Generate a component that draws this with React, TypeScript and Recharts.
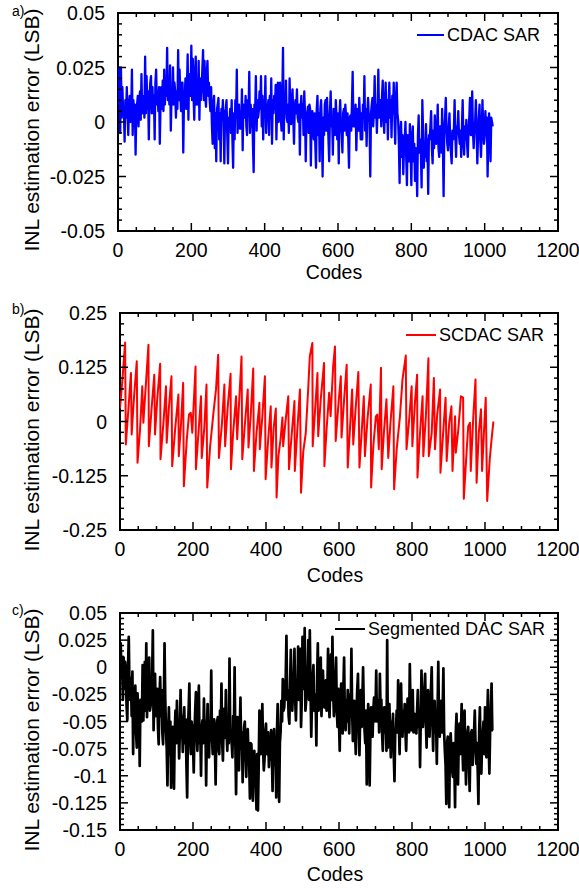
import React from "react";
import { LineChart, Line, XAxis, YAxis, ReferenceArea } from "recharts";

const FONT = '"Liberation Sans", Arial, Helvetica, sans-serif';
const CHART_W = 579;
const RIGHT_MARGIN = 21;

// ---------- axis ticks ----------
const xMajorTicks = [0, 200, 400, 600, 800, 1000, 1200];
const cdacYMajor = [0.05, 0.025, 0, -0.025, -0.05];
const cdacYLabels = ["0.05", "0.025", "0", "-0.025", "-0.05"];
const scdacYMajor = [0.25, 0.125, 0, -0.125, -0.25];
const scdacYLabels = ["0.25", "0.125", "0", "-0.125", "-0.25"];
const segYMajor = [0.05, 0.025, 0, -0.025, -0.05, -0.075, -0.1, -0.125, -0.15];
const segYLabels = ["0.05", "0.025", "0", "-0.025", "-0.05", "-0.075", "-0.1", "-0.125", "-0.15"];

// ---------- a) CDAC SAR: INL error in milli-LSB, one value every 2 codes (codes 0..1022) ----------
const CDAC_CODE_STEP = 2;
const cdacInlMilli = [
  8, 14, 25, -5, 25, 2, 16, 4,
  6, -9, 10, 2, 16, 3, -6, 8,
  12, 0, 4, 24, -6, 10, 2, 8,
  -15, 6, 8, 12, -2, 10, 14, 1,
  22, 4, 6, 12, 2, 30, 4, 21,
  6, 14, -8, 12, 18, 21, 4, 16,
  4, 12, -8, 18, 24, 8, 14, 5,
  16, -10, 8, 16, 6, 19, 5, 24,
  8, 18, 12, 34, 10, 18, 8, 26,
  -4, 12, 8, 25, 8, 18, 14, 2,
  14, 6, 33, 10, 24, 12, 5, 18,
  18, -14, 10, 12, 20, 6, 16, 31,
  1, 22, 14, 12, 35, 10, 29, 12,
  1, 22, 30, 8, 18, 8, 28, 1,
  20, 10, 16, 24, 33, 10, 28, 12,
  7, 22, 28, 12, 18, 10, 5, 16,
  -1, -10, 8, 12, -12, 4, -18, 6,
  8, 11, -8, 4, -18, 6, 2, 10,
  0, -19, 4, 6, 10, -6, -19, 2,
  0, 6, -5, 10, -8, -21, 4, -8,
  10, 2, 24, -5, 6, 8, -3, 4,
  -3, 15, -13, 8, 5, 2, 12, -2,
  -6, 10, 4, 23, -5, 8, -2, 6,
  -10, -23, 8, 4, 21, -4, 10, 2,
  5, 14, 6, 21, -2, 12, -8, 10,
  4, 21, -5, 8, 2, 10, -6, 12,
  2, 20, -10, 10, 4, 12, 6, 17,
  -8, 8, 18, 0, 10, 18, 2, -4,
  10, 34, -8, 12, 4, 19, 2, 0,
  8, -5, 20, 4, -1, 10, 15, 2,
  -10, 6, 10, 4, 15, 2, 0, 8,
  -15, 6, 12, 2, 8, -6, 14, 4,
  -18, 2, 4, 7, -5, 8, 6, -20,
  2, 5, -4, -8, 4, -10, -21, 6,
  12, -6, 4, -18, 6, 10, -4, -25,
  2, -6, 8, 10, -4, 11, 2, -8,
  -18, 4, 14, -2, 2, -15, 6, 4,
  -6, 10, 2, -8, 4, -19, 2, 10,
  -2, -5, -14, 4, 6, -4, 8, 2,
  -6, 4, -8, -21, 2, 3, -4, 8,
  23, -2, 6, -2, 8, -13, 2, 6,
  -4, 11, 2, -8, 4, -8, 8, 2,
  21, -4, 6, -11, 4, 11, 2, 0,
  -25, 4, 8, 11, -2, 6, 21, 2,
  8, -5, 6, 24, 2, 5, 10, -2,
  12, 19, 4, -5, 8, 18, 0, 10,
  -8, 8, 18, 2, 10, -7, 12, 4,
  18, 2, -10, 10, 18, 4, 1, -10,
  -28, -4, 0, -16, -6, -24, -12, -8,
  0, -16, -29, -6, -10, -18, -1, -12,
  -29, -8, -2, -18, -10, -27, -12, -20,
  -34, -6, 3, -14, -8, -14, -30, 10,
  -4, -21, -10, -16, -1, -18, -8, -33,
  -6, -8, -2, 5, -12, -19, -4, -12,
  3, -8, -10, -4, 8, -12, -16, -2,
  -2, -14, 6, -10, -34, -4, 2, 11,
  -4, -10, -13, -2, 4, -8, -14, -19,
  -4, -8, -4, 10, -6, -16, -2, -4,
  5, -6, -10, -4, -16, -2, 10, -8,
  -15, -2, -8, 1, -10, -16, -4, 2,
  11, -6, -6, 14, -4, -12, -4, 0,
  10, -4, -19, -6, 2, 8, -8, -16,
  -4, 10, -2, -10, -7, 5, -6, 2,
  -25, -6, 4, -4, -18, 2, 0, -2,
];

// ---------- b) SCDAC SAR: sawtooth vertices (code, INL in LSB) ----------
const scdacCodes = [
  0, 7, 14, 16, 23, 30, 32, 38, 46, 48,
  55, 61, 64, 78, 79, 87, 94, 96, 102, 110,
  111, 119, 126, 128, 134, 141, 143, 151, 160, 161,
  167, 173, 175, 183, 189, 194, 198, 207, 208, 215,
  222, 224, 231, 237, 239, 247, 256, 263, 269, 271,
  279, 286, 288, 295, 303, 304, 310, 318, 321, 333,
  335, 342, 350, 352, 358, 365, 367, 374, 382, 383,
  390, 397, 399, 406, 413, 415, 421, 427, 429, 434,
  440, 445, 447, 454, 461, 463, 470, 478, 479, 486,
  493, 496, 502, 509, 516, 520, 527, 528, 534, 541,
  543, 550, 559, 560, 566, 573, 577, 584, 589, 591,
  598, 605, 607, 614, 621, 624, 630, 636, 639, 646,
  653, 656, 662, 668, 671, 678, 687, 688, 694, 701,
  705, 709, 715, 717, 723, 730, 735, 741, 749, 751,
  758, 767, 774, 783, 785, 793, 799, 801, 808, 814,
  815, 822, 829, 831, 838, 845, 846, 854, 860, 863,
  869, 877, 878, 886, 892, 895, 902, 908, 911, 918,
  920, 927, 934, 940, 942, 950, 954, 959, 961, 968,
  974, 977, 983, 989, 992, 997, 1002, 1006, 1013, 1018,
  1023,
];
const scdacInl = [
  0.030, 0.100, 0.182, -0.053, 0.028, 0.112, -0.030, 0.051, 0.139, -0.095,
  -0.018, 0.081, -0.003, 0.177, -0.057, 0.035, 0.108, -0.030, 0.051, 0.133,
  -0.087, -0.003, 0.081, -0.049, 0.032, 0.104, -0.103, -0.018, 0.062, -0.080,
  -0.008, 0.089, -0.149, -0.041, 0.016, 0.020, -0.026, 0.127, -0.110, -0.026,
  0.058, -0.084, -0.014, 0.085, -0.152, -0.057, 0.020, 0.074, 0.154, -0.084,
  -0.008, 0.085, -0.057, 0.032, 0.110, -0.110, -0.026, 0.058, -0.041, 0.150,
  -0.087, -0.008, 0.074, -0.060, 0.012, 0.122, -0.114, -0.026, 0.043, -0.064,
  0.012, 0.104, -0.133, -0.041, 0.035, -0.106, -0.015, 0.030, -0.175, -0.080,
  -0.040, 0.009, -0.057, 0.005, 0.058, -0.110, -0.034, 0.047, -0.114, -0.018,
  0.074, -0.164, -0.070, -0.026, 0.081, 0.150, 0.181, -0.057, 0.020, 0.112,
  -0.034, 0.051, 0.135, -0.103, -0.018, 0.066, 0.012, 0.127, 0.173, -0.045,
  0.035, 0.104, -0.037, 0.051, 0.131, -0.106, -0.018, 0.074, -0.053, 0.035,
  0.114, -0.106, -0.026, 0.058, -0.080, 0.005, 0.085, -0.152, -0.057, 0.012,
  0.016, -0.064, 0.124, -0.110, -0.026, 0.051, -0.084, -0.003, 0.081, -0.156,
  -0.064, 0.012, 0.097, 0.152, -0.064, 0.012, 0.081, -0.057, 0.043, 0.108,
  -0.129, -0.026, 0.058, -0.080, 0.012, 0.146, -0.080, -0.026, 0.100, -0.064,
  0.016, 0.074, -0.118, -0.018, 0.055, -0.091, -0.003, 0.035, -0.114, 0.012,
  -0.072, -0.018, 0.058, 0.055, -0.178, -0.064, -0.011, -0.003, -0.114, 0.012,
  0.097, -0.141, -0.026, 0.028, -0.114, -0.026, 0.055, -0.183, -0.087, -0.041,
  0.000,
];

// ---------- c) Segmented DAC SAR: INL error in milli-LSB, one value every 2 codes ----------
const SEG_CODE_STEP = 2;
const segInlMilli = [
  0, 22, -10, 0, -30, 9, -20, 5,
  -3, -35, -49, 0, 28, -21, -30, -10,
  -45, -4, -80, -20, -45, -17, -60, -74,
  -24, -45, -35, -91, -30, -31, -50, 2,
  -49, -20, 5, -40, 22, -46, -15, -35,
  9, -40, -35, -20, -10, 34, -58, -30,
  -6, -45, -40, -20, -55, -71, -30, -9,
  -45, -21, -60, -71, -40, 22, -30, -57,
  -75, -109, -60, -37, -80, -50, -111, -65,
  -55, -80, -112, -58, -40, -70, -31, -60,
  -50, -84, -60, -21, -65, -45, -78, -55,
  -37, -70, -48, -90, -120, -60, -40, -15,
  -65, -80, -50, -55, -70, -97, -60, -40,
  -23, -60, -77, -45, -17, -70, -60, -100,
  -55, -49, -70, -29, -65, -50, -109, -60,
  -34, -70, -83, -50, -60, -3, -65, -80,
  -55, -48, -70, -108, -60, -50, -46, -75,
  -80, -40, -60, -15, -70, -86, -50, -38,
  -65, -21, -60, -77, -50, -70, 8, -60,
  -58, -70, -83, -45, -60, 0, -70, -117,
  -65, -46, -80, -95, -60, -28, -75, -60,
  -106, -70, -55, -50, -80, -101, -60, -57,
  -80, -90, -121, -70, -71, -95, -123, -80,
  -77, -95, -110, -131, -80, -132, -90, -40,
  -70, -80, -60, -34, -75, -95, -85, -60,
  -52, -80, -70, -60, -92, -70, -85, -58,
  -80, -114, -70, -57, -90, -75, -120, -60,
  -34, -80, -124, -70, -60, -31, -50, -11,
  -40, -37, -20, -10, 29, -30, -21, -45,
  -52, -15, 16, -30, -40, -21, -10, 17,
  -30, -49, -20, -25, 19, -30, -20, 17,
  -55, -30, 28, -20, -10, 36, -40, -31,
  -20, -5, 25, -30, 34, -20, -64, -30,
  -10, 2, -40, -25, -30, -72, -10, 22,
  -40, -32, -20, 9, -45, -10, -3, -30,
  -37, -20, -12, -40, -25, 17, -30, -46,
  -20, 12, -30, 28, -20, -45, -34, -10,
  9, -40, -55, -20, -50, -77, -30, -15,
  -40, -61, -20, 9, -45, -58, -30, -50,
  -21, -40, -61, -25, -45, 17, -40, -68,
  -40, -31, -60, -80, -40, -20, -6, -55,
  -81, -45, -21, -55, -30, 0, -40, -58,
  -70, -40, -108, -60, -34, -50, -109, -60,
  -37, -55, -64, -40, -28, -50, -40, -3,
  -50, -43, -30, -60, -6, -40, -30, -60,
  -77, -50, -37, -60, -40, -77, 25, -74,
  -50, -34, -60, -83, -50, -60, -43, -80,
  -105, -60, -58, -40, -60, -12, -50, -80,
  -40, -15, -50, -64, -40, -55, -34, -60,
  -77, -50, -29, -45, -60, 3, -40, -58,
  -50, -21, -60, -45, -43, -60, -61, -40,
  -21, -55, -40, -92, -50, -3, -40, -55,
  -40, -20, -6, -50, -74, -40, -21, -55,
  -64, -40, -20, 0, -50, -77, -40, -31,
  -60, -50, -89, -40, 5, -50, -64, -40,
  -31, -60, -40, -1, -60, -77, -90, -126,
  -70, -64, -90, -129, -70, -61, -80, -95,
  -101, -70, -90, -129, -60, -43, -90, -108,
  -70, -52, -80, -60, -34, -70, -95, -60,
  -40, -80, -108, -70, -60, -55, -90, -114,
  -70, -60, -58, -90, -74, -60, -40, -70,
  -89, -70, -95, -126, -60, -37, -80, -98,
  -70, -61, -50, -80, -37, -70, -83, -50,
  -21, -70, -98, -60, -40, -15, -58, -58,
];

const cdacData = cdacInlMilli.map((m, i) => ({ code: i * CDAC_CODE_STEP, inl: m / 1000 }));
const scdacData = scdacCodes.map((c, i) => ({ code: c, inl: scdacInl[i] }));
const segData = segInlMilli.map((m, i) => ({ code: i * SEG_CODE_STEP, inl: m / 1000 }));

function stepTicks(min: number, max: number, step: number): number[] {
  const out: number[] = [];
  const n = Math.round((max - min) / step);
  for (let k = 0; k <= n; k++) out.push(Number((min + k * step).toFixed(6)));
  return out;
}
const xTicks = stepTicks(0, 1200, 50);

type PanelProps = {
  top: number;
  height: number;
  plotTop: number;
  plotLeft: number;
  plotH: number;
  data: { code: number; inl: number }[];
  color: string;
  strokeWidth: number;
  yDomain: [number, number];
  yMinorStep: number;
  yMajor: number[];
  yLabels: string[];
  name: string;
  panelLabel: string;
  panelLabelY: number;
  legendLeft: number;
  legendLineW: number;
  legendY: number;
  codesY: number;
};

function Panel(p: PanelProps) {
  const plotW = CHART_W - p.plotLeft - RIGHT_MARGIN;
  const xAxisH = p.height - p.plotTop - p.plotH;
  const yTicks = stepTicks(p.yDomain[0], p.yDomain[1], p.yMinorStep);

  const renderXTick = (props: any) => {
    const { x, y, payload } = props;
    const v = payload.value;
    const major = xMajorTicks.indexOf(v) >= 0;
    const len = major ? 8 : 4;
    return (
      <g>
        <line x1={x} x2={x} y1={y} y2={y - len} stroke="#000" strokeWidth={1.5} />
        <line x1={x} x2={x} y1={y - p.plotH} y2={y - p.plotH + len} stroke="#000" strokeWidth={1.5} />
        {major ? (
          <text x={x} y={y + 19} textAnchor="middle" dominantBaseline="central" fontSize={19.5} fontFamily={FONT} fill="#000">
            {String(v)}
          </text>
        ) : null}
      </g>
    );
  };

  const renderYTick = (props: any) => {
    const { x, y, payload } = props;
    const v = payload.value;
    const idx = p.yMajor.findIndex((m) => Math.abs(m - v) < 1e-9);
    const major = idx >= 0;
    const len = major ? 8 : 4;
    return (
      <g>
        <line x1={x} x2={x + len} y1={y} y2={y} stroke="#000" strokeWidth={1.5} />
        <line x1={x + plotW - len} x2={x + plotW} y1={y} y2={y} stroke="#000" strokeWidth={1.5} />
        {major ? (
          <text x={x - 13} y={y} textAnchor="end" dominantBaseline="central" fontSize={19.5} fontFamily={FONT} fill="#000">
            {p.yLabels[idx]}
          </text>
        ) : null}
      </g>
    );
  };

  const rel = (v: number) => v - p.top;
  const yTitleY = p.top + p.plotTop + p.plotH / 2 + 8;

  return (
    <div style={{ position: "absolute", left: 0, top: p.top, width: CHART_W, height: p.height }}>
      <LineChart
        width={CHART_W}
        height={p.height}
        data={p.data}
        margin={{ top: p.plotTop, right: RIGHT_MARGIN, bottom: 0, left: 0 }}
      >
        <XAxis
          dataKey="code"
          type="number"
          domain={[0, 1200]}
          ticks={xTicks}
          interval={0}
          tickLine={false}
          axisLine={false}
          tickSize={0}
          tickMargin={0}
          height={xAxisH}
          tick={renderXTick}
          allowDataOverflow
        />
        <YAxis
          type="number"
          domain={p.yDomain}
          ticks={yTicks}
          interval={0}
          tickLine={false}
          axisLine={false}
          tickSize={0}
          tickMargin={0}
          width={p.plotLeft}
          tick={renderYTick}
          allowDataOverflow
        />
        <ReferenceArea
          x1={0}
          x2={1200}
          y1={p.yDomain[0]}
          y2={p.yDomain[1]}
          fill="none"
          fillOpacity={0}
          stroke="#000"
          strokeWidth={2}
          ifOverflow="visible"
        />
        <Line
          type="linear"
          dataKey="inl"
          name={p.name}
          stroke={p.color}
          strokeWidth={p.strokeWidth}
          strokeLinejoin="round"
          dot={false}
          activeDot={false}
          isAnimationActive={false}
        />
      </LineChart>

      <div
        style={{
          position: "absolute",
          left: 12,
          top: rel(p.panelLabelY),
          transform: "translateY(-50%)",
          fontFamily: FONT,
          fontSize: 14,
          lineHeight: 1,
          color: "#000",
        }}
      >
        {p.panelLabel}
      </div>

      <div
        style={{
          position: "absolute",
          left: 31,
          top: rel(yTitleY),
          transform: "translate(-50%, -50%) rotate(-90deg)",
          whiteSpace: "nowrap",
          fontFamily: FONT,
          fontSize: 21,
          lineHeight: 1,
          color: "#000",
        }}
      >
        INL estimation error (LSB)
      </div>

      <div
        style={{
          position: "absolute",
          left: p.plotLeft + plotW / 2 - 4,
          top: rel(p.codesY),
          transform: "translate(-50%, -50%)",
          whiteSpace: "nowrap",
          fontFamily: FONT,
          fontSize: 19.5,
          lineHeight: 1,
          color: "#000",
        }}
      >
        Codes
      </div>

      <div
        style={{
          position: "absolute",
          left: p.legendLeft,
          top: rel(p.legendY),
          transform: "translateY(-50%)",
          display: "flex",
          alignItems: "center",
          whiteSpace: "nowrap",
          fontFamily: FONT,
          fontSize: 18,
          lineHeight: 1,
          color: "#000",
        }}
      >
        <span style={{ display: "inline-block", width: p.legendLineW, height: 2, background: p.color, marginRight: 3 }} />
        <span>{p.name}</span>
      </div>
    </div>
  );
}

export default function App() {
  return (
    <div style={{ position: "absolute", left: 0, top: 0, width: 579, height: 888, background: "#fff" }}>
      <Panel
        top={0}
        height={290}
        plotTop={13}
        plotLeft={118}
        plotH={218}
        data={cdacData}
        color="#0000ff"
        strokeWidth={2.3}
        yDomain={[-0.05, 0.05]}
        yMinorStep={0.005}
        yMajor={cdacYMajor}
        yLabels={cdacYLabels}
        name="CDAC SAR"
        panelLabel="a)"
        panelLabelY={11}
        legendLeft={417}
        legendLineW={27}
        legendY={35}
        codesY={273}
      />
      <Panel
        top={290}
        height={300}
        plotTop={23}
        plotLeft={120}
        plotH={217}
        data={scdacData}
        color="#ff0000"
        strokeWidth={2}
        yDomain={[-0.25, 0.25]}
        yMinorStep={0.025}
        yMajor={scdacYMajor}
        yLabels={scdacYLabels}
        name="SCDAC SAR"
        panelLabel="b)"
        panelLabelY={309}
        legendLeft={406}
        legendLineW={30}
        legendY={335}
        codesY={576}
      />
      <Panel
        top={590}
        height={298}
        plotTop={23}
        plotLeft={120}
        plotH={217}
        data={segData}
        color="#000000"
        strokeWidth={2.7}
        yDomain={[-0.15, 0.05]}
        yMinorStep={0.005}
        yMajor={segYMajor}
        yLabels={segYLabels}
        name="Segmented DAC SAR"
        panelLabel="c)"
        panelLabelY={610}
        legendLeft={335}
        legendLineW={30}
        legendY={629}
        codesY={875}
      />
    </div>
  );
}
